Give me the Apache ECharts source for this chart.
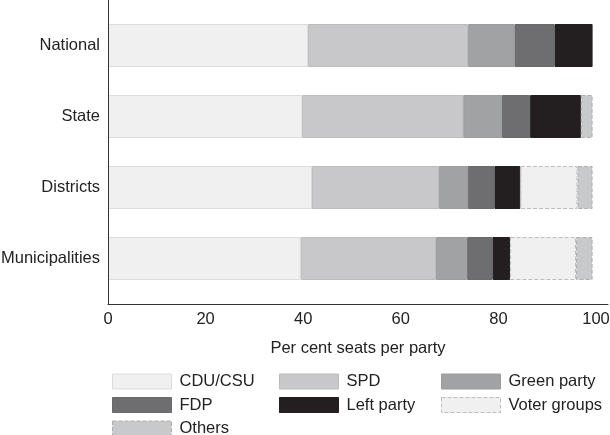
<!DOCTYPE html>
<html>
<head>
<meta charset="utf-8">
<script src="https://cdn.jsdelivr.net/npm/echarts@6/dist/echarts.min.js"></script>
<style>html,body{margin:0;padding:0;background:#fff}#c{width:610px;height:435px}</style>
</head>
<body>
<div id="c"></div>
<script>
var categories = ['National', 'State', 'Districts', 'Municipalities'];
var cduCsu      = [41.0, 39.8, 41.8, 39.5];
var spd         = [32.8, 33.0, 26.0, 27.7];
var greenParty  = [9.5, 7.9, 5.9, 6.4];
var fdp         = [8.2, 5.8, 5.5, 5.2];
var leftParty   = [7.8, 10.4, 5.3, 3.6];
var voterGroups = [null, null, 11.7, 13.5];
var others      = [null, 2.4, 3.1, 3.4];
var xTicks = [0, 20, 40, 60, 80, 100];

var FONT = "'Liberation Sans', Arial, Helvetica, sans-serif";
var FS = 16.5;
var seriesDefs = [
  {name: 'CDU/CSU', data: cduCsu, color: '#f0f0f0', border: '#dcdcdc', type: 'solid'},
  {name: 'SPD', data: spd, color: '#c8c8ca', border: '#bcbcbe', type: 'solid'},
  {name: 'Green party', data: greenParty, color: '#a0a2a4', border: '#9a9c9e', type: 'solid'},
  {name: 'FDP', data: fdp, color: '#6e6e70', border: '#6a6a6c', type: 'solid'},
  {name: 'Left party', data: leftParty, color: '#231f20', border: '#231f20', type: 'solid'},
  {name: 'Voter groups', data: voterGroups, color: '#f0f0f0', border: '#bdbdbd', type: 'dashed'},
  {name: 'Others', data: others, color: '#c8c9ca', border: '#aeaeae', type: 'dashed'}
];
var styleOf = {};
seriesDefs.forEach(function (s) { styleOf[s.name] = s; });

function legendItem(name) {
  var s = styleOf[name];
  return {name: name, itemStyle: {color: s.color, borderColor: s.border, borderWidth: 1, borderType: s.type}};
}

var chart = echarts.init(document.getElementById('c'), null, {renderer: 'canvas'});
var XMAX = 102.46;
var option = {
  animation: false,
  backgroundColor: '#fff',
  textStyle: {fontFamily: FONT},
  grid: [
    {left: 108, top: 10, width: 500, height: 284, containLabel: false, outerBoundsMode: 'none'},
    {left: 108, top: 0, width: 500, height: 304, containLabel: false, outerBoundsMode: 'none'}
  ],
  xAxis: [
    {gridIndex: 0, type: 'value', min: 0, max: XMAX, show: false},
    {gridIndex: 1, type: 'value', min: 0, max: XMAX, interval: 20, z: 10,
      axisLine: {show: true, lineStyle: {color: '#333', width: 1}},
      axisTick: {show: false},
      splitLine: {show: false},
      axisLabel: {color: '#222', fontSize: FS, fontFamily: FONT, margin: 7, showMaxLabel: false,
        formatter: function (v) { return xTicks.indexOf(v) >= 0 ? String(v) : ''; }},
      name: 'Per cent seats per party', nameLocation: 'middle', nameGap: 36,
      nameTextStyle: {color: '#222', fontSize: FS, fontFamily: FONT}
    }
  ],
  yAxis: [
    {gridIndex: 0, type: 'category', data: categories, inverse: true,
      axisLine: {show: false}, axisTick: {show: false},
      axisLabel: {color: '#222', fontSize: FS, fontFamily: FONT, margin: 8}},
    {gridIndex: 1, type: 'value', min: 0, max: 1, z: 10,
      axisLine: {show: true, lineStyle: {color: '#333', width: 1}},
      axisTick: {show: false}, axisLabel: {show: false}, splitLine: {show: false}}
  ],
  legend: [
    {data: ['CDU/CSU', 'FDP', 'Others'].map(legendItem), left: 112, top: 373},
    {data: ['SPD', 'Left party'].map(legendItem), left: 279, top: 373},
    {data: ['Green party', 'Voter groups'].map(legendItem), left: 441, top: 373}
  ].map(function (l) {
    return Object.assign({
      orient: 'vertical', itemWidth: 59, itemHeight: 15, itemGap: 6.5, padding: 0,
      height: 80, icon: 'rect', selectedMode: false,
      textStyle: {color: '#222', fontSize: FS, fontFamily: FONT, padding: [0, 0, 0, 3]}
    }, l);
  }),
  series: seriesDefs.map(function (s) {
    return {
      name: s.name, type: 'bar', stack: 'total', xAxisIndex: 0, yAxisIndex: 0,
      barWidth: 43, data: s.data,
      itemStyle: {color: s.color, borderColor: s.border, borderWidth: 1, borderType: s.type},
      emphasis: {disabled: true}
    };
  })
};
chart.setOption(option);
</script>
</body>
</html>
